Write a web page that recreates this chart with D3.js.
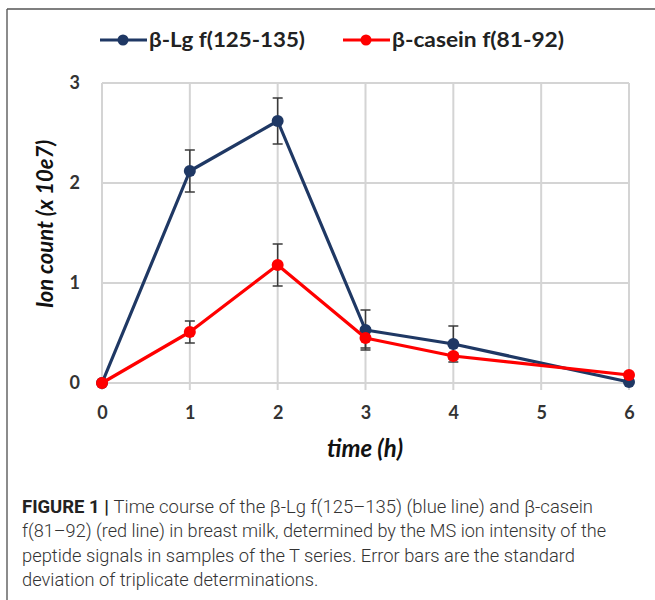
<!DOCTYPE html>
<html>
<head>
<meta charset="utf-8">
<script src="https://cdn.jsdelivr.net/npm/d3@7"></script>
<style>
  html, body { margin: 0; padding: 0; background: #fff; }
  svg { display: block; }
</style>
</head>
<body>
<svg id="chart" width="655" height="600"></svg>
<script>
// ---- data ----
const times = [0, 1, 2, 3, 4, 6];
const lgValues = [0, 2.12, 2.62, 0.53, 0.39, 0.01];
const lgErrors = [0, 0.21, 0.23, 0.20, 0.18, 0];
const caseinValues = [0, 0.51, 1.18, 0.45, 0.27, 0.08];
const caseinErrors = [0, 0.11, 0.21, 0.10, 0.03, 0];
const xTicks = [0, 1, 2, 3, 4, 5, 6];
const yTicks = [0, 1, 2, 3];
const seriesNames = ["β-Lg f(125-135)", "β-casein f(81-92)"];
const xTitle = "time (h)";
const yTitle = "Ion count (x 10e7)";
const captionLines = [
  "Time course of the β-Lg f(125–135) (blue line) and β-casein",
  "f(81–92) (red line) in breast milk, determined by the MS ion intensity of the",
  "peptide signals in samples of the T series. Error bars are the standard",
  "deviation of triplicate determinations."
];

const series = [
  { name: seriesNames[0], values: lgValues, errors: lgErrors, color: "#1F3864" },
  { name: seriesNames[1], values: caseinValues, errors: caseinErrors, color: "#FF0000" }
];

const svg = d3.select("#chart");

// frame (left and top rules)
svg.append("line").attr("x1", 7).attr("x2", 7).attr("y1", 9).attr("y2", 600)
  .attr("stroke", "#666").attr("stroke-width", 1.5);
svg.append("line").attr("x1", 7).attr("x2", 655).attr("y1", 9).attr("y2", 9)
  .attr("stroke", "#555").attr("stroke-width", 1.5);

const x = d3.scaleLinear().domain([0, 6]).range([102, 629]);
const y = d3.scaleLinear().domain([0, 3]).range([383, 83]);

const chartFont = "Lato, 'Open Sans', sans-serif";

// grid
const grid = svg.append("g");
grid.selectAll("line.v").data(xTicks).join("line")
  .attr("x1", d => x(d)).attr("x2", d => x(d))
  .attr("y1", y(3)).attr("y2", y(0) + 7)
  .attr("stroke", "#d4d4d4").attr("stroke-width", 2);
grid.selectAll("line.h").data(yTicks).join("line")
  .attr("x1", x(0)).attr("x2", x(6))
  .attr("y1", d => y(d)).attr("y2", d => y(d))
  .attr("stroke", "#d4d4d4").attr("stroke-width", 2);

// axes via d3 axis generators (labels only)
const xAxis = svg.append("g").attr("transform", `translate(0,${y(0)})`)
  .call(d3.axisBottom(x).tickValues(xTicks).tickFormat(d3.format("d")).tickSize(0).tickPadding(24));
const yAxis = svg.append("g").attr("transform", `translate(${x(0)},0)`)
  .call(d3.axisLeft(y).tickValues(yTicks).tickFormat(d3.format("d")).tickSize(0).tickPadding(22));
[xAxis, yAxis].forEach(a => {
  a.select(".domain").remove();
  a.selectAll("text").attr("font-family", chartFont).attr("font-weight", 700)
    .attr("font-size", 18).attr("fill", "#333");
});
xAxis.selectAll("text").attr("dy", "0.32em").attr("y", 30);

// error bars
series.forEach(s => {
  const g = svg.append("g");
  const pts = times.map((t, i) => ({ t, v: s.values[i], e: s.errors[i] })).filter(p => p.e > 0);
  g.selectAll("line.stem").data(pts).join("line")
    .attr("x1", p => x(p.t)).attr("x2", p => x(p.t))
    .attr("y1", p => y(p.v + p.e)).attr("y2", p => y(p.v - p.e))
    .attr("stroke", "#3a3a3a").attr("stroke-width", 1.5);
  ["+", "-"].forEach(sign => {
    g.selectAll("line.cap" + (sign === "+" ? "t" : "b")).data(pts).join("line")
      .attr("x1", p => x(p.t) - 5).attr("x2", p => x(p.t) + 5)
      .attr("y1", p => y(sign === "+" ? p.v + p.e : p.v - p.e))
      .attr("y2", p => y(sign === "+" ? p.v + p.e : p.v - p.e))
      .attr("stroke", "#3a3a3a").attr("stroke-width", 1.5);
  });
});

// lines and markers
const line = d3.line().x((d, i) => x(times[i])).y(d => y(d));
series.forEach(s => {
  svg.append("path").datum(s.values).attr("d", line)
    .attr("fill", "none").attr("stroke", s.color).attr("stroke-width", 3.2)
    .attr("stroke-linejoin", "round");
  svg.append("g").selectAll("circle").data(s.values).join("circle")
    .attr("cx", (d, i) => x(times[i])).attr("cy", d => y(d)).attr("r", 6)
    .attr("fill", s.color);
});

// axis titles
svg.append("text").attr("x", 365).attr("y", 457).attr("text-anchor", "middle")
  .attr("font-family", chartFont).attr("font-weight", 700).attr("font-style", "italic")
  .attr("font-size", 24).attr("fill", "#111").text(xTitle);
svg.append("text").attr("transform", "translate(53,224) rotate(-90)")
  .attr("text-anchor", "middle")
  .attr("font-family", chartFont).attr("font-weight", 700).attr("font-style", "italic")
  .attr("font-size", 22).attr("fill", "#111").text(yTitle);

// legend
const legendItems = [
  { s: series[0], x0: 100, textW: 156 },
  { s: series[1], x0: 343, textW: 172 }
];
const legY = 40;
legendItems.forEach(it => {
  const g = svg.append("g");
  g.append("line").attr("x1", it.x0).attr("x2", it.x0 + 47)
    .attr("y1", legY).attr("y2", legY).attr("stroke", it.s.color).attr("stroke-width", 3);
  g.append("circle").attr("cx", it.x0 + 23).attr("cy", legY).attr("r", 5.5).attr("fill", it.s.color);
  g.append("text").attr("x", it.x0 + 49).attr("y", legY + 7)
    .attr("font-family", chartFont).attr("font-weight", 700).attr("font-size", 21)
    .attr("fill", "#222").attr("textLength", it.textW).attr("lengthAdjust", "spacingAndGlyphs")
    .text(it.s.name);
});

// caption
const capFont = "Roboto, 'Liberation Sans', sans-serif";
const capWidths = [571, 584, 553];
const capNodes = captionLines.map((ln, i) => {
  const t = svg.append("text").attr("x", 22).attr("y", 513 + i * 24.3)
    .attr("font-family", capFont).attr("font-size", 18).attr("fill", "#333")
    .attr("font-weight", 300);
  if (i === 0) {
    t.append("tspan").attr("font-weight", 700).attr("fill", "#222").text("FIGURE 1 | ");
  }
  t.append("tspan").text(ln);
  return t;
});
// scale the last line with the same average stretch as the measured lines
let ratioSum = 0;
capNodes.forEach((t, i) => {
  if (i < capWidths.length) {
    const nat = t.node().getComputedTextLength();
    ratioSum += capWidths[i] / nat;
    t.attr("textLength", capWidths[i]).attr("lengthAdjust", "spacingAndGlyphs");
  }
});
const avgRatio = ratioSum / capWidths.length;
const last = capNodes[capNodes.length - 1];
last.attr("textLength", last.node().getComputedTextLength() * avgRatio)
  .attr("lengthAdjust", "spacingAndGlyphs");
</script>
</body>
</html>
